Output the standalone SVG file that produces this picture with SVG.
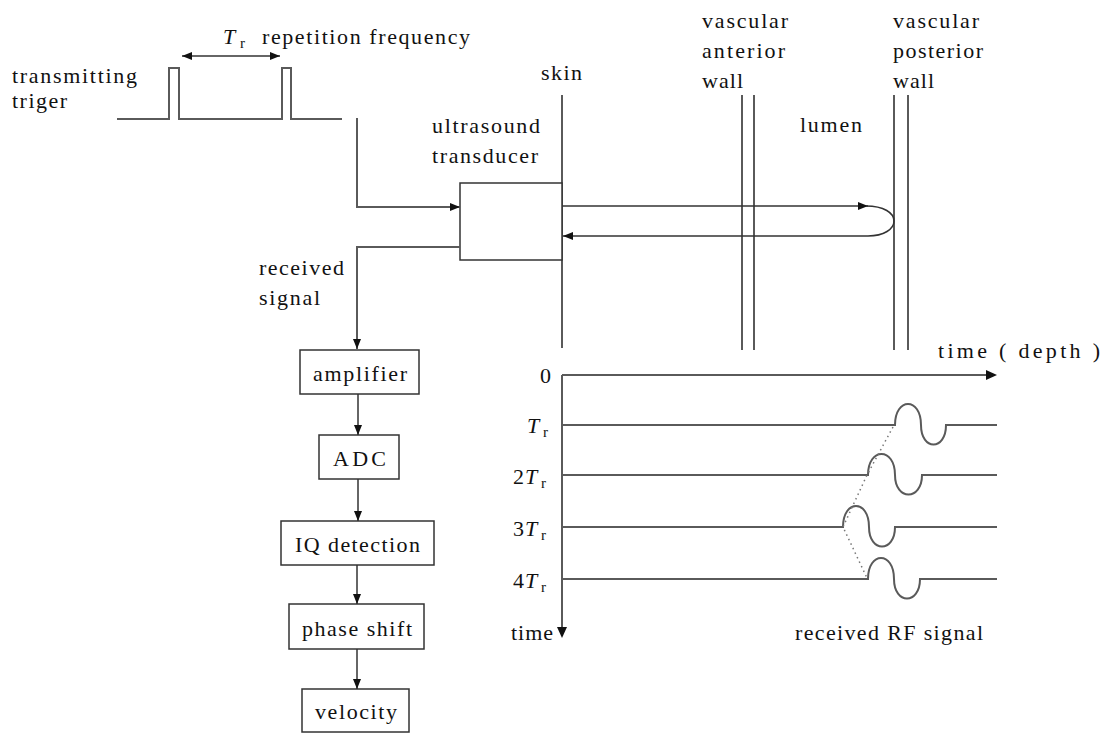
<svg xmlns="http://www.w3.org/2000/svg" width="1107" height="733" viewBox="0 0 1107 733" font-family="Liberation Serif, Times New Roman, DejaVu Serif, serif">
<style>
.t{font-size:22px;fill:#111}
.i{font-style:italic}
.s{font-size:15px}
.ln{fill:none;stroke:#5a5a5a;stroke-width:2}
.bx{fill:#fff;stroke:#333;stroke-width:1.5}
.cn{fill:none;stroke:#333;stroke-width:1.5}
.dot{fill:none;stroke:#777;stroke-width:1.5;stroke-dasharray:1.5 3.5}
</style>
<defs>
<marker id="ah" viewBox="0 0 10 8" refX="10" refY="4" markerWidth="10" markerHeight="8" markerUnits="userSpaceOnUse" orient="auto-start-reverse"><path d="M0,0 L10,4 L0,8 z" fill="#111"/></marker>
</defs>
<rect width="1107" height="733" fill="#fff"/>

<g id="trigger" font-family="Liberation Serif, serif">
<path class="ln" d="M117,119 H169 V68 H179 V119 H282 V68 H291 V119 H342"/>
<text class="t" x="12" y="83" textLength="125">transmitting</text>
<text class="t" x="12" y="108" textLength="55">triger</text>
<text class="t i" x="223" y="44">T</text><text class="t s" x="240" y="48">r</text>
<text class="t" x="262" y="44" textLength="208">repetition frequency</text>
</g>

<g id="anatomy" font-family="Liberation Serif, serif">
<line class="ln" x1="562" y1="95" x2="562" y2="348"/>
<line class="ln" x1="742" y1="95" x2="742" y2="350"/>
<line class="ln" x1="754" y1="95" x2="754" y2="350"/>
<line class="ln" x1="894" y1="95" x2="894" y2="350"/>
<line class="ln" x1="908" y1="95" x2="908" y2="350"/>
<text class="t" x="541" y="80" textLength="41">skin</text>
<text class="t" x="702" y="28" textLength="86">vascular</text>
<text class="t" x="702" y="58" textLength="83">anterior</text>
<text class="t" x="702" y="88" textLength="41">wall</text>
<text class="t" x="893" y="28" textLength="86">vascular</text>
<text class="t" x="893" y="58" textLength="90">posterior</text>
<text class="t" x="893" y="88" textLength="41">wall</text>
<text class="t" x="800" y="132" textLength="62">lumen</text>
</g>

<g id="transducer" font-family="Liberation Serif, serif">
<rect class="bx" x="460" y="183" width="102" height="77"/>
<text class="t" x="432" y="133" textLength="108">ultrasound</text>
<text class="t" x="432" y="163" textLength="106">transducer</text>
</g>

<g id="received-label" font-family="Liberation Serif, serif">
<text class="t" x="259" y="275" textLength="85">received</text>
<text class="t" x="259" y="305" textLength="61">signal</text>
</g>

<g id="amplifier" font-family="Liberation Serif, serif"><rect class="bx" x="300" y="350" width="119" height="44"/><text class="t" x="313" y="381" textLength="94">amplifier</text></g>
<g id="adc" font-family="Liberation Serif, serif"><rect class="bx" x="319" y="435" width="80" height="44"/><text class="t" x="333" y="466" textLength="53">ADC</text></g>
<g id="iq" font-family="Liberation Serif, serif"><rect class="bx" x="281" y="521" width="153" height="44"/><text class="t" x="295" y="552" textLength="125">IQ detection</text></g>
<g id="phase" font-family="Liberation Serif, serif"><rect class="bx" x="289" y="604" width="135" height="45"/><text class="t" x="302" y="636" textLength="110">phase shift</text></g>
<g id="velocity" font-family="Liberation Serif, serif"><rect class="bx" x="302" y="689" width="107" height="43"/><text class="t" x="315" y="719" textLength="82">velocity</text></g>

<g id="chart" font-family="Liberation Serif, serif">
<line class="ln" x1="562" y1="375" x2="562" y2="628"/>
<path d="M557,627 L562,638 L567,627 z" fill="#111"/>
<line class="ln" x1="562" y1="375" x2="988" y2="375"/>
<path d="M986,370 L997,375 L986,380 z" fill="#111"/>
<path class="ln" d="M562,425 H895 C895,397 921,397 921,425 C921,451 946,451 946,425 H997"/>
<path class="ln" d="M562,475 H868 C868,447 895,447 895,475 C895,501 922,501 922,475 H997"/>
<path class="ln" d="M562,527 H843 C843,499 869,499 869,527 C869,553 895,553 895,527 H997"/>
<path class="ln" d="M562,579 H868 C868,551 894,551 894,579 C894,605 920,605 920,579 H997"/>
<path class="dot" d="M893,427 L867,475 L843,527 L867,578"/>
<text class="t" x="540" y="383">0</text>
<text class="t i" x="527" y="433">T</text><text class="t s" x="543" y="437">r</text>
<text class="t" x="513" y="484">2</text><text class="t i" x="525" y="484">T</text><text class="t s" x="541" y="488">r</text>
<text class="t" x="513" y="536">3</text><text class="t i" x="525" y="536">T</text><text class="t s" x="541" y="540">r</text>
<text class="t" x="513" y="588">4</text><text class="t i" x="525" y="588">T</text><text class="t s" x="541" y="592">r</text>
<text class="t" x="511" y="640" textLength="42">time</text>
<text class="t" x="938" y="358" textLength="162">time ( depth )</text>
<text class="t" x="795" y="640" textLength="188">received RF signal</text>
</g>

<g id="connectors">
<line class="cn" x1="182" y1="56" x2="280" y2="56" marker-start="url(#ah)" marker-end="url(#ah)"/>
<path class="ln" d="M357,118 V207 H460" marker-end="url(#ah)"/>
<path class="ln" d="M460,247 H357 V349" marker-end="url(#ah)"/>
<path class="cn" d="M562,206 H868" marker-end="url(#ah)"/>
<path class="cn" d="M866,206 C884,206 894,213 894,221 C894,229 884,236 868,236 H563" marker-end="url(#ah)"/>
<line class="cn" x1="358" y1="394" x2="358" y2="435" marker-end="url(#ah)"/>
<line class="cn" x1="358" y1="479" x2="358" y2="521" marker-end="url(#ah)"/>
<line class="cn" x1="357" y1="565" x2="357" y2="604" marker-end="url(#ah)"/>
<line class="cn" x1="357" y1="649" x2="357" y2="689" marker-end="url(#ah)"/>
</g>
</svg>
